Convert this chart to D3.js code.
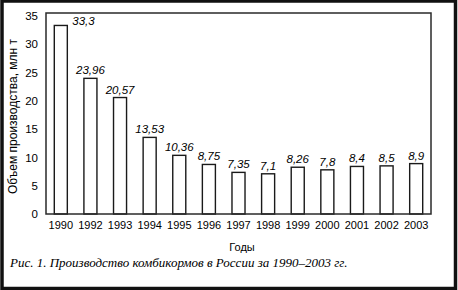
<!DOCTYPE html>
<html>
<head>
  <meta charset="utf-8">
  <script src="https://d3js.org/d3.v7.min.js"></script>
  <style>
    body { margin: 0; background: #fff; }
    text { font-family: "Liberation Sans", Arial, sans-serif; fill: #000; }
  </style>
</head>
<body>
  <svg id="chart"></svg>
  <script>
    // data
    let years = ["1990", "1992", "1993", "1994", "1995", "1996", "1997",
                 "1998", "1999", "2000", "2001", "2002", "2003"];
    let values = [33.3, 23.96, 20.57, 13.53, 10.36, 8.75, 7.35,
                  7.1, 8.26, 7.8, 8.4, 8.5, 8.9];
    let yTicks = [0, 5, 10, 15, 20, 25, 30, 35];

    let width = 458, height = 290;
    let svg = d3.select("#chart")
      .attr("width", width)
      .attr("height", height);

    // outer frame of the scan
    svg.append("rect")
      .attr("x", 2).attr("y", 1)
      .attr("width", width - 4.5).attr("height", height - 2.5)
      .attr("fill", "none")
      .attr("stroke", "#111")
      .attr("stroke-width", 3.5);

    let plot = { left: 46, right: 431, top: 13, bottom: 214 };

    let x = d3.scaleBand()
      .domain(years)
      .range([plot.left, plot.right])
      .paddingInner(0.56)
      .paddingOuter(0.28);

    let y = d3.scaleLinear()
      .domain([0, 35.5])
      .range([plot.bottom, plot.top]);

    // y axis labels
    let yAxis = svg.append("g")
      .attr("transform", `translate(${plot.left},0)`)
      .call(d3.axisLeft(y).tickValues(yTicks).tickSize(0).tickPadding(8));
    yAxis.select(".domain").remove();
    yAxis.selectAll("text")
      .style("font-size", "11.5px")
      .style("font-family", "\"Liberation Sans\", Arial, sans-serif")
      .attr("fill", "#000");

    // x axis labels
    let xAxis = svg.append("g")
      .attr("transform", `translate(0,${plot.bottom})`)
      .call(d3.axisBottom(x).tickSize(0).tickPadding(7));
    xAxis.select(".domain").remove();
    xAxis.selectAll("text")
      .style("font-size", "11px")
      .style("font-family", "\"Liberation Sans\", Arial, sans-serif")
      .attr("fill", "#000");

    // bars
    svg.append("g")
      .selectAll("rect")
      .data(values)
      .enter()
      .append("rect")
      .attr("x", (d, i) => x(years[i]))
      .attr("y", d => y(d))
      .attr("width", x.bandwidth())
      .attr("height", d => y(0) - y(d))
      .attr("fill", "#fff")
      .attr("stroke", "#1a1a1a")
      .attr("stroke-width", 1.4);

    // value labels (first one sits to the right of the bar)
    svg.append("g")
      .selectAll("text")
      .data(values)
      .enter()
      .append("text")
      .attr("x", (d, i) => i == 0 ? x(years[i]) + x.bandwidth() + 5 : x(years[i]) + x.bandwidth() / 2)
      .attr("y", (d, i) => i == 0 ? y(d) : y(d) - 4)
      .attr("text-anchor", (d, i) => i == 0 ? "start" : "middle")
      .style("font-size", "11.5px")
      .style("font-style", "italic")
      .text(d => String(d).replace(".", ","));

    // plot box
    svg.append("rect")
      .attr("x", plot.left).attr("y", plot.top)
      .attr("width", plot.right - plot.left)
      .attr("height", plot.bottom - plot.top)
      .attr("fill", "none")
      .attr("stroke", "#2a2a2a")
      .attr("stroke-width", 1.5);

    // axis titles
    svg.append("text")
      .attr("transform", `translate(17,${(plot.top + plot.bottom) / 2 + 3}) rotate(-90)`)
      .attr("text-anchor", "middle")
      .style("font-size", "12px")
      .text("Объем производства, млн т");

    svg.append("text")
      .attr("x", 242).attr("y", 251)
      .attr("text-anchor", "middle")
      .style("font-size", "11px")
      .text("Годы");

    // caption
    svg.append("text")
      .attr("x", 10).attr("y", 267)
      .style("font-family", "\"Liberation Serif\", \"Times New Roman\", serif")
      .style("font-style", "italic")
      .style("font-size", "13px")
      .text("Рис. 1. Производство комбикормов в России за 1990–2003 гг.");
  </script>
</body>
</html>
